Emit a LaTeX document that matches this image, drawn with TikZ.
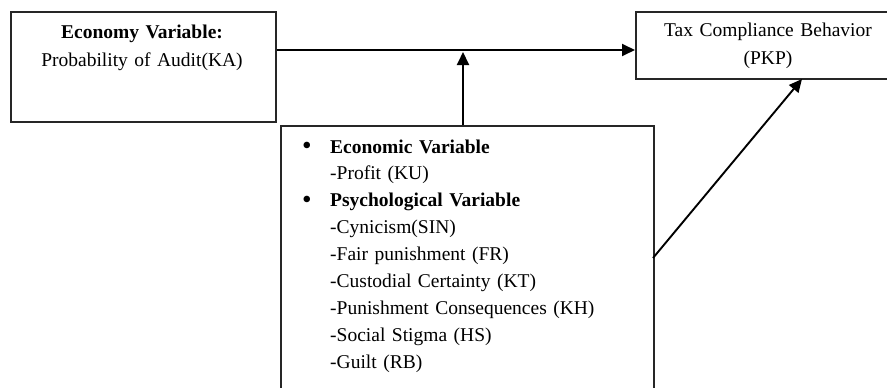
\documentclass[tikz,border=0pt]{standalone}
\usepackage{fontspec}
\setmainfont{Liberation Serif}
\usetikzlibrary{arrows.meta}
\newcommand{\bigbul}{\makebox[28pt][l]{\hspace*{0pt}\raisebox{-1.5pt}{\scalebox{1.4}{\textbullet}}}}
\begin{document}
\begin{tikzpicture}[x=1pt,y=-1pt,
  box/.style={draw=black!85, line width=1.7pt, inner sep=0pt, anchor=north west},
  arr/.style={draw=black, line width=1.9pt, -{Triangle[length=13pt,width=12pt]}},
  txt/.style={inner sep=0pt, font=\fontsize{19.5}{28.5}\selectfont}]
\useasboundingbox (0,0) rectangle (887,388);
\clip (0,0) rectangle (887,388);
% boxes
\node[box, minimum width=265pt, minimum height=110pt] (ka) at (10,11) {};
\node[box, minimum width=290pt, minimum height=67pt] (pkp) at (635,11) {};
\node[box, minimum width=373pt, minimum height=280pt] (var) at (280,125) {};
% texts
\node[txt, text width=265pt, align=center, anchor=base] (katxt) at (142,38)
  {\textbf{Economy Variable:}\\Probability of Audit(KA)};
\node[txt, text width=266pt, align=center, anchor=base] (pkptxt) at (768,36)
  {Tax Compliance Behavior\\(PKP)};
\node[txt, font=\fontsize{19.5}{26.9}\selectfont, text width=340pt, align=left, anchor=base west] (vartxt) at (302,153)
  {\bigbul\textbf{Economic Variable}\\
   \hspace*{28pt}-Profit (KU)\\
   \bigbul\textbf{Psychological Variable}\\
   \hspace*{28pt}-Cynicism(SIN)\\
   \hspace*{28pt}-Fair punishment (FR)\\
   \hspace*{28pt}-Custodial Certainty (KT)\\
   \hspace*{28pt}-Punishment Consequences (KH)\\
   \hspace*{28pt}-Social Stigma (HS)\\
   \hspace*{28pt}-Guilt (RB)};
% connectors
\coordinate (ay) at (0,50);
\coordinate (vx) at (463,0);
\coordinate (vtip) at (463,52);
\coordinate (dstart) at (653,258);
\coordinate (dtip) at (802,79);
\draw[arr] (ka.east |- ay) -- (pkp.west |- ay);
\draw[arr] (var.north -| vx) -- (vtip);
\draw[arr] (dstart) -- (dtip);
\end{tikzpicture}
\end{document}
